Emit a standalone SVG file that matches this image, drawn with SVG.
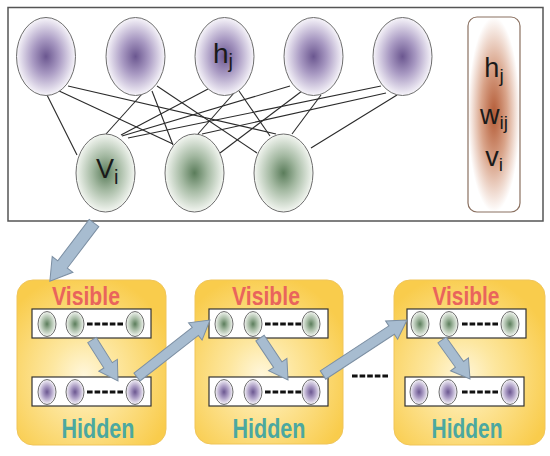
<svg xmlns="http://www.w3.org/2000/svg" width="550" height="456" viewBox="0 0 550 456">
<defs>
<radialGradient id="gp" cx="50%" cy="50%" r="50%">
<stop offset="0" stop-color="#6b5790"/><stop offset="0.45" stop-color="#a899c2"/><stop offset="1" stop-color="#f7f5fa"/>
</radialGradient>
<radialGradient id="gg" cx="50%" cy="50%" r="50%">
<stop offset="0" stop-color="#5b7d5b"/><stop offset="0.45" stop-color="#a4b9a2"/><stop offset="1" stop-color="#f3f6f1"/>
</radialGradient>
<radialGradient id="gb" cx="50%" cy="50%" r="50%">
<stop offset="0" stop-color="#b35a35"/><stop offset="0.5" stop-color="#d9a48a"/><stop offset="1" stop-color="#ffffff"/>
</radialGradient>
<radialGradient id="gy" cx="45%" cy="58%" r="62%">
<stop offset="0" stop-color="#fff7dc"/><stop offset="0.35" stop-color="#fde7a0"/><stop offset="1" stop-color="#f9cc4c"/>
</radialGradient>
</defs>
<style>
.hn{fill:url(#gp);stroke:#6e6e6e;stroke-width:1}
.vn{fill:url(#gg);stroke:#6e6e6e;stroke-width:1}
.edge{stroke:#2a2a2a;stroke-width:1.1;fill:none}
.panel{fill:url(#gy);stroke:#f0c55a;stroke-width:1}
.bar{fill:#fff;stroke:#333;stroke-width:1.2}
.dash{stroke:#111;stroke-width:3;stroke-dasharray:5.6 2}
.arrow{fill:#a7bcd0;stroke:#7c8fa3;stroke-width:1}
.lbl{font-family:"Liberation Sans",Arial,sans-serif;fill:#1a1a1a}
.vis{font-family:"Liberation Sans",Arial,sans-serif;font-weight:bold;font-size:26px;fill:#e9645c}
.hid{font-family:"Liberation Sans",Arial,sans-serif;font-weight:bold;font-size:28px;fill:#4ba8a0}
</style>
<rect x="8" y="7.5" width="535" height="213.5" fill="#fff" stroke="#555" stroke-width="1.5"/>
<g id="connectors">
<line class="edge" x1="47" y1="95" x2="77" y2="155"/>
<line class="edge" x1="57" y1="90" x2="173" y2="144"/>
<line class="edge" x1="68" y1="86" x2="276" y2="134"/>
<line class="edge" x1="142" y1="94" x2="106" y2="134"/>
<line class="edge" x1="152" y1="91" x2="173" y2="145"/>
<line class="edge" x1="157" y1="86" x2="257" y2="153"/>
<line class="edge" x1="208" y1="89" x2="121" y2="135"/>
<line class="edge" x1="234" y1="93" x2="198" y2="134"/>
<line class="edge" x1="239" y1="91" x2="270" y2="136"/>
<line class="edge" x1="290" y1="86" x2="122" y2="136"/>
<line class="edge" x1="302" y1="91" x2="220" y2="153"/>
<line class="edge" x1="321" y1="95" x2="292" y2="134"/>
<line class="edge" x1="381" y1="86" x2="128" y2="138"/>
<line class="edge" x1="386" y1="93" x2="202" y2="134"/>
<line class="edge" x1="397" y1="95" x2="311" y2="148"/>
</g>
<g id="h1"><ellipse class="hn" cx="46" cy="56.5" rx="29.5" ry="39"/></g>
<g id="h2"><ellipse class="hn" cx="135.5" cy="56.5" rx="29.5" ry="39"/></g>
<g id="h3"><ellipse class="hn" cx="224.5" cy="56.5" rx="29.5" ry="39"/>
<text class="lbl" x="213" y="63" font-size="28">h<tspan font-size="20" dy="5">j</tspan></text></g>
<g id="h4"><ellipse class="hn" cx="313.5" cy="56.5" rx="29.5" ry="39"/></g>
<g id="h5"><ellipse class="hn" cx="402.5" cy="56.5" rx="29.5" ry="39"/></g>
<g id="v1"><ellipse class="vn" cx="105.5" cy="173" rx="29.5" ry="39"/>
<text class="lbl" x="96" y="178" font-size="27">V<tspan font-size="20" dy="6">i</tspan></text></g>
<g id="v2"><ellipse class="vn" cx="194.5" cy="173" rx="29.5" ry="39"/></g>
<g id="v3"><ellipse class="vn" cx="283.5" cy="173" rx="29.5" ry="39"/></g>
<g id="legend">
<rect x="468" y="17" width="52" height="195" rx="9" fill="url(#gb)" stroke="#8a7060" stroke-width="1.2"/>
<text class="lbl" x="494" y="77" font-size="27" text-anchor="middle">h<tspan font-size="19" dy="5">j</tspan></text>
<text class="lbl" x="494" y="124" font-size="27" text-anchor="middle">w<tspan font-size="19" dy="5">ij</tspan></text>
<text class="lbl" x="494" y="166" font-size="27" text-anchor="middle">v<tspan font-size="19" dy="5">i</tspan></text>
</g>
<g id="panel1">
<rect class="panel" x="17" y="280" width="149" height="165" rx="16"/>
<text class="vis" x="86" y="305" text-anchor="middle" textLength="68" lengthAdjust="spacingAndGlyphs">Visible</text>
<rect class="bar" x="32" y="309" width="119" height="29"/>
<ellipse class="vn" cx="47" cy="324" rx="9" ry="12.5"/><ellipse class="vn" cx="75" cy="324" rx="9" ry="12.5"/><ellipse class="vn" cx="135" cy="324" rx="9" ry="12.5"/>
<line class="dash" x1="87" y1="324" x2="123" y2="324"/>
<rect class="bar" x="32" y="377" width="119" height="29"/>
<ellipse class="hn" cx="47" cy="392" rx="9" ry="12.5"/><ellipse class="hn" cx="75" cy="392" rx="9" ry="12.5"/><ellipse class="hn" cx="135" cy="392" rx="9" ry="12.5"/>
<line class="dash" x1="87" y1="392" x2="123" y2="392"/>
<text class="hid" x="98" y="438" text-anchor="middle" textLength="73" lengthAdjust="spacingAndGlyphs">Hidden</text>
</g>
<g id="panel2">
<rect class="panel" x="195" y="280" width="148" height="164" rx="16"/>
<text class="vis" x="266" y="305" text-anchor="middle" textLength="68" lengthAdjust="spacingAndGlyphs">Visible</text>
<rect class="bar" x="209" y="309" width="119" height="29"/>
<ellipse class="vn" cx="224" cy="324" rx="9" ry="12.5"/><ellipse class="vn" cx="253" cy="324" rx="9" ry="12.5"/><ellipse class="vn" cx="311" cy="324" rx="9" ry="12.5"/>
<line class="dash" x1="265" y1="324" x2="301" y2="324"/>
<rect class="bar" x="209" y="377" width="119" height="29"/>
<ellipse class="hn" cx="224" cy="392" rx="9" ry="12.5"/><ellipse class="hn" cx="253" cy="392" rx="9" ry="12.5"/><ellipse class="hn" cx="311" cy="392" rx="9" ry="12.5"/>
<line class="dash" x1="265" y1="392" x2="301" y2="392"/>
<text class="hid" x="269" y="438" text-anchor="middle" textLength="73" lengthAdjust="spacingAndGlyphs">Hidden</text>
</g>
<g id="panel3">
<rect class="panel" x="394" y="280" width="151" height="165" rx="16"/>
<text class="vis" x="466" y="305" text-anchor="middle" textLength="67" lengthAdjust="spacingAndGlyphs">Visible</text>
<rect class="bar" x="407" y="309" width="119" height="29"/>
<ellipse class="vn" cx="420" cy="324" rx="9" ry="12.5"/><ellipse class="vn" cx="449" cy="324" rx="9" ry="12.5"/><ellipse class="vn" cx="510" cy="324" rx="9" ry="12.5"/>
<line class="dash" x1="462" y1="324" x2="498" y2="324"/>
<rect class="bar" x="405" y="377" width="119" height="29"/>
<ellipse class="hn" cx="419" cy="392" rx="9" ry="12.5"/><ellipse class="hn" cx="448" cy="392" rx="9" ry="12.5"/><ellipse class="hn" cx="510" cy="392" rx="9" ry="12.5"/>
<line class="dash" x1="462" y1="392" x2="498" y2="392"/>
<text class="hid" x="467" y="438" text-anchor="middle" textLength="71" lengthAdjust="spacingAndGlyphs">Hidden</text>
</g>
<g id="flow">
<line class="dash" x1="352" y1="376" x2="388" y2="376"/>
<path class="arrow" transform="translate(94,223) rotate(127.2)" d="M0,-6 L52,-6 L52,-13 L73,0 L52,13 L52,6 L0,6 Z"/>
<path class="arrow" transform="translate(92,340) rotate(57.6)" d="M0,-5 L30,-5 L30,-11 L48.5,0 L30,11 L30,5 L0,5 Z"/>
<path class="arrow" transform="translate(137,377) rotate(-38)" d="M0,-5 L74,-5 L74,-11 L92.6,0 L74,11 L74,5 L0,5 Z"/>
<path class="arrow" transform="translate(260,338) rotate(56.3)" d="M0,-5 L32,-5 L32,-11 L50.5,0 L32,11 L32,5 L0,5 Z"/>
<path class="arrow" transform="translate(323,375) rotate(-33.2)" d="M0,-5 L82,-5 L82,-11 L100.4,0 L82,11 L82,5 L0,5 Z"/>
<path class="arrow" transform="translate(442,340) rotate(54.3)" d="M0,-5 L30,-5 L30,-11 L48,0 L30,11 L30,5 L0,5 Z"/>
</g>
</svg>
